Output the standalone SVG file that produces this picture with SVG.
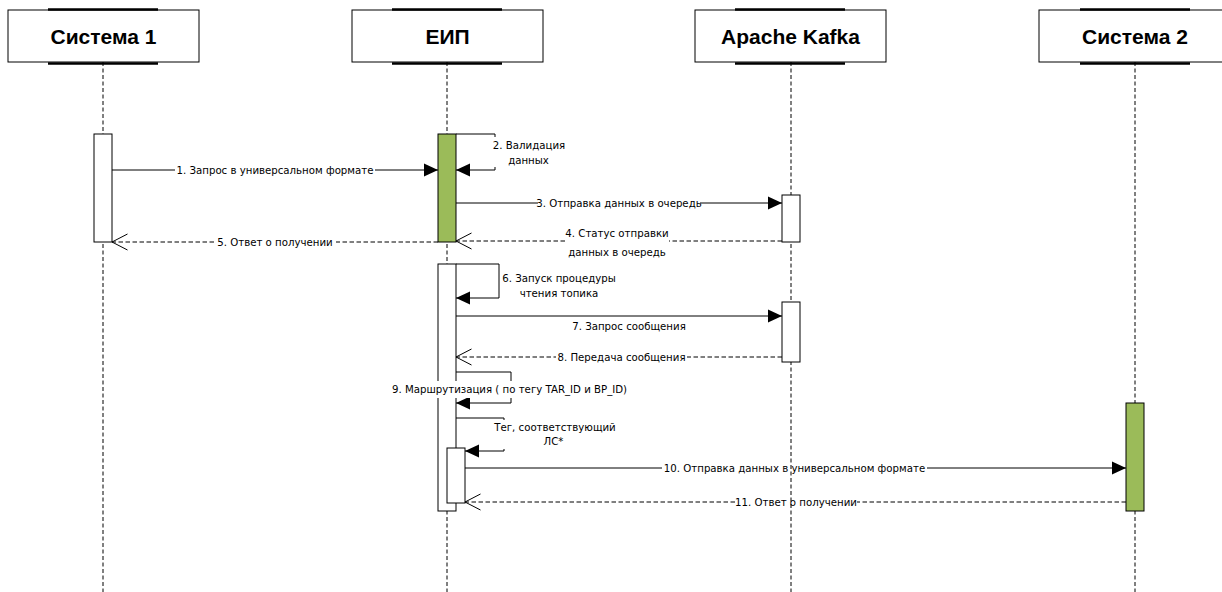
<svg xmlns="http://www.w3.org/2000/svg" width="1222" height="592" viewBox="0 0 1222 592">
<style>
.hdr{fill:#fff;stroke:#000;stroke-width:1}
.thick{stroke:#000;stroke-width:2.5}
.ht{font-family:"Liberation Sans",Arial,sans-serif;font-weight:bold;font-size:21px;fill:#000;text-anchor:middle}
.life{stroke:#000;stroke-width:1;stroke-dasharray:4,2.5;fill:none}
.act{fill:#fff;stroke:#000;stroke-width:1}
.actg{fill:#9BBB59;stroke:#000;stroke-width:1}
.msg{stroke:#000;stroke-width:1;fill:none}
.ret{stroke:#000;stroke-width:1;fill:none;stroke-dasharray:4.5,2.5}
.lt{font-family:"DejaVu Sans",Verdana,sans-serif;font-size:10.2px;fill:#000;text-anchor:middle}
.bg{fill:#fff;stroke:none}
</style>
<defs>
<marker id="fa" markerUnits="userSpaceOnUse" markerWidth="14" markerHeight="13" refX="14" refY="6.5" orient="auto" overflow="visible">
<path d="M0,0 L14,6.5 L0,13 z" fill="#000"/>
</marker>
<marker id="oa" markerUnits="userSpaceOnUse" markerWidth="16" markerHeight="17" refX="15.5" refY="8.5" orient="auto" overflow="visible">
<path d="M0,0.5 L15.5,8.5 L0,16.5" fill="none" stroke="#000" stroke-width="1"/>
</marker>
</defs>
<rect x="0" y="0" width="1222" height="592" fill="#fff"/>

<g id="sys1">
<line class="life" x1="103" y1="62" x2="103" y2="592"/>
<rect class="hdr" x="8" y="10" width="191" height="52"/>
<line class="thick" x1="48" y1="9.5" x2="158" y2="9.5"/>
<line class="thick" x1="48" y1="63.5" x2="158" y2="63.5"/>
<text class="ht" x="103.5" y="44">Система 1</text>
<rect class="act" x="94" y="134" width="18" height="108"/>
</g>

<g id="eip">
<line class="life" x1="447" y1="62" x2="447" y2="592"/>
<rect class="hdr" x="352" y="10" width="191" height="52"/>
<line class="thick" x1="392" y1="9.5" x2="502" y2="9.5"/>
<line class="thick" x1="392" y1="63.5" x2="502" y2="63.5"/>
<text class="ht" x="447.5" y="44">ЕИП</text>
<rect class="actg" x="438" y="134" width="18" height="108"/>
<rect class="act" x="438" y="264" width="18" height="247"/>
<rect class="act" x="447" y="448" width="18" height="55"/>
</g>

<g id="kafka">
<line class="life" x1="791" y1="62" x2="791" y2="592"/>
<rect class="hdr" x="695" y="10" width="191" height="52"/>
<line class="thick" x1="735" y1="9.5" x2="845" y2="9.5"/>
<line class="thick" x1="735" y1="63.5" x2="845" y2="63.5"/>
<text class="ht" x="790.5" y="44">Apache Kafka</text>
<rect class="act" x="782" y="195" width="18" height="47"/>
<rect class="act" x="782" y="302" width="18" height="60"/>
</g>

<g id="sys2">
<line class="life" x1="1135" y1="62" x2="1135" y2="592"/>
<rect class="hdr" x="1039" y="10" width="191" height="52"/>
<line class="thick" x1="1080" y1="9.5" x2="1190" y2="9.5"/>
<line class="thick" x1="1080" y1="63.5" x2="1190" y2="63.5"/>
<text class="ht" x="1135" y="44">Система 2</text>
<rect class="actg" x="1126" y="403" width="18" height="108"/>
</g>

<g id="connectors">
<!-- 1 -->
<line class="msg" x1="112" y1="170" x2="438" y2="170" marker-end="url(#fa)"/>
<rect class="bg" x="175" y="163" width="200" height="14"/>
<text class="lt" x="275" y="174">1. Запрос в универсальном формате</text>
<!-- 2 -->
<path class="msg" d="M456,134 H495 V170 H456" marker-end="url(#fa)"/>
<rect class="bg" x="490" y="137" width="78" height="30"/>
<text class="lt" x="529" y="149">2. Валидация</text>
<text class="lt" x="528.5" y="164">данных</text>
<!-- 3 -->
<line class="msg" x1="456" y1="203" x2="782" y2="203" marker-end="url(#fa)"/>
<rect class="bg" x="538" y="196" width="162" height="14"/>
<text class="lt" x="619" y="207">3. Отправка данных в очередь</text>
<!-- 4 -->
<line class="ret" x1="782" y1="241" x2="456" y2="241" marker-end="url(#oa)"/>
<rect class="bg" x="566" y="226" width="103" height="35"/>
<text class="lt" x="617" y="237">4. Статус отправки</text>
<text class="lt" x="617" y="256">данных в очередь</text>
<!-- 5 -->
<line class="ret" x1="438" y1="242" x2="112" y2="242" marker-end="url(#oa)"/>
<rect class="bg" x="214" y="235" width="122" height="14"/>
<text class="lt" x="275" y="246">5. Ответ о получении</text>
<!-- 6 -->
<path class="msg" d="M456,264 H499 V298 H456" marker-end="url(#fa)"/>
<text class="lt" x="559" y="282">6. Запуск процедуры</text>
<text class="lt" x="559" y="297">чтения топика</text>
<!-- 7 -->
<line class="msg" x1="456" y1="316" x2="782" y2="316" marker-end="url(#fa)"/>
<text class="lt" x="629" y="330">7. Запрос сообщения</text>
<!-- 8 -->
<line class="ret" x1="782" y1="357" x2="456" y2="357" marker-end="url(#oa)"/>
<rect class="bg" x="556" y="350" width="131" height="14"/>
<text class="lt" x="621.5" y="361">8. Передача сообщения</text>
<!-- 9 -->
<path class="msg" d="M456,372 H511 V403 H456" marker-end="url(#fa)"/>
<rect class="bg" x="388" y="381" width="243" height="17"/>
<text class="lt" x="509.5" y="393">9. Маршрутизация ( по тегу TAR_ID и BP_ID)</text>
<!-- tag -->
<path class="msg" d="M456,418 H504 V451 H465" marker-end="url(#fa)"/>
<rect class="bg" x="494" y="420" width="122" height="29"/>
<text class="lt" x="555" y="431">Тег, соответствующий</text>
<text class="lt" x="553.5" y="445">ЛС*</text>
<!-- 10 -->
<line class="msg" x1="465" y1="468" x2="662" y2="468"/>
<line class="msg" x1="927" y1="468" x2="1126" y2="468" marker-end="url(#fa)"/>
<text class="lt" x="794.5" y="472">10. Отправка данных в универсальном формате</text>
<!-- 11 -->
<line class="ret" x1="1126" y1="502" x2="857" y2="502"/>
<line class="ret" x1="735" y1="502" x2="465" y2="502" marker-end="url(#oa)"/>
<text class="lt" x="796" y="506">11. Ответ о получении</text>
</g>
</svg>
